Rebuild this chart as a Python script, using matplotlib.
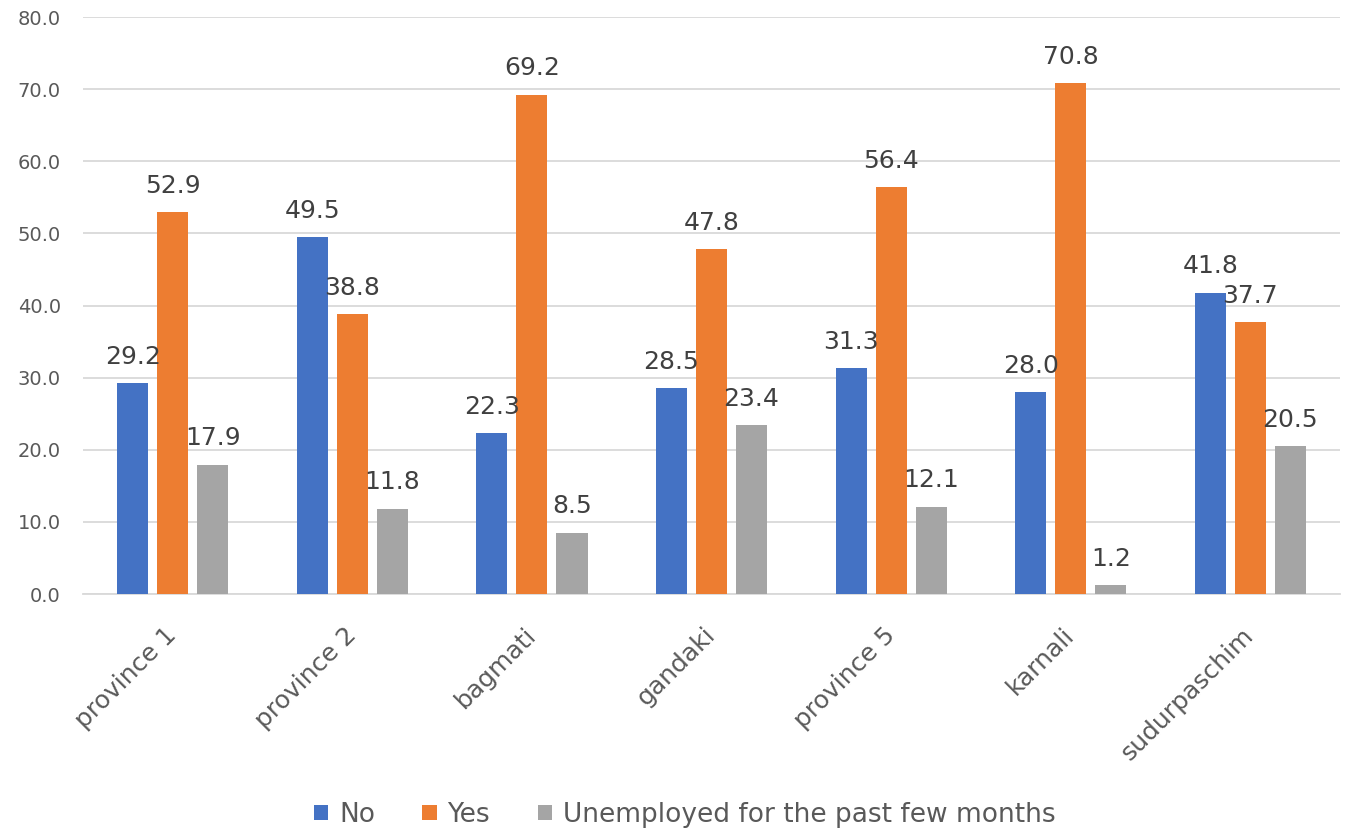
import numpy as np
import matplotlib.pyplot as plt

regions = ["province 1", "province 2", "bagmati", "gandaki", "province 5", "karnali", "sudurpaschim"]
no_vals = [29.2, 49.5, 22.3, 28.5, 31.3, 28.0, 41.8]
yes_vals = [52.9, 38.8, 69.2, 47.8, 56.4, 70.8, 37.7]
unemp_vals = [17.9, 11.8, 8.5, 23.4, 12.1, 1.2, 20.5]

series = [("No", no_vals, "#4472C4"),
          ("Yes", yes_vals, "#ED7D31"),
          ("Unemployed for the past few months", unemp_vals, "#A5A5A5")]

txt = "#595959"
fig = plt.figure(figsize=(13.45, 8.3), dpi=100)
ax = fig.add_axes([0.0617, 0.2843, 0.9346, 0.6952])

x = np.arange(len(regions))
step = 0.223
w = 0.173
for k, (name, vals, col) in enumerate(series):
    pos = x + (k - 1) * step
    ax.bar(pos, vals, width=w, color=col, label=name, zorder=3)
    for p, v in zip(pos, vals):
        ax.annotate(f"{v:.1f}", (p, v), xytext=(0, 14), textcoords="offset points",
                    ha="center", va="baseline", fontsize=18, color="#404040", zorder=4)

ax.set_xlim(-0.5, len(regions) - 0.5)
ax.set_ylim(0, 80)
ax.set_yticks(np.arange(0, 81, 10))
ax.set_yticklabels([f"{t:.1f}" for t in np.arange(0, 81, 10)], fontsize=14, color=txt)
ax.yaxis.grid(True, color="#D9D9D9", linewidth=1.3, zorder=0)
ax.set_xticks(x)
ax.set_xticklabels(regions, rotation=45, ha="right", va="center", rotation_mode="anchor",
                   fontsize=18, color=txt)
ax.tick_params(axis="both", length=0)
ax.tick_params(axis="x", pad=27)
ax.tick_params(axis="y", pad=16)
for s in ["top", "right", "left"]:
    ax.spines[s].set_visible(False)
ax.spines["bottom"].set_color("#D9D9D9")
ax.spines["bottom"].set_linewidth(1.3)

# legend sits under the rotated labels
fig.legend(loc="lower center", bbox_to_anchor=(0.509, -0.026), ncol=3, frameon=False,
           fontsize=19, labelcolor=txt, handlelength=0.55, handleheight=0.55,
           handletextpad=0.4, columnspacing=1.8)

fig.savefig("out.png", dpi=100)
